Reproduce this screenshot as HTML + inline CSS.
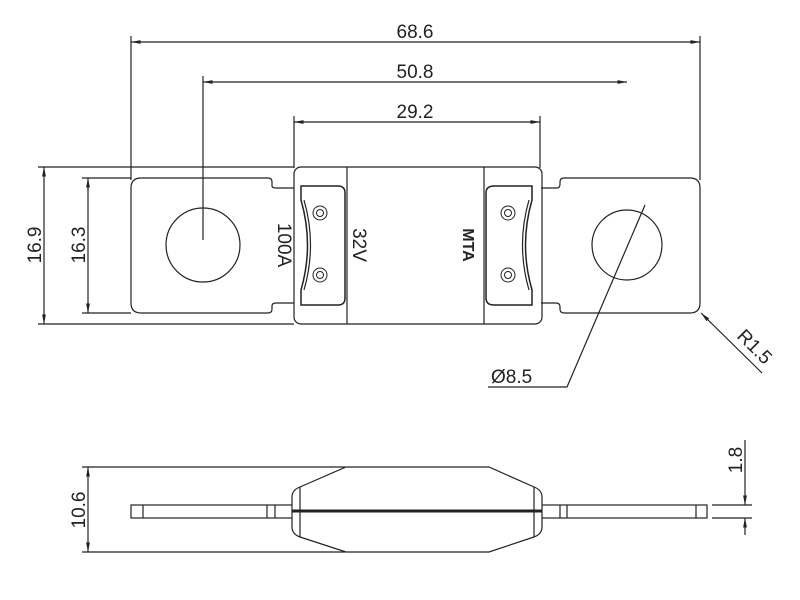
<!DOCTYPE html>
<html><head><meta charset="utf-8"><style>html,body{margin:0;padding:0;background:#fff}svg{display:block}</style></head><body>
<svg width="800" height="600" viewBox="0 0 800 600" xmlns="http://www.w3.org/2000/svg" font-family="Liberation Sans, DejaVu Sans, sans-serif" fill="none" stroke="#222" stroke-width="1.2">
<defs><marker id="a" viewBox="0 0 10 10" refX="10" refY="5" markerWidth="8" markerHeight="8" orient="auto-start-reverse"><path d="M0,3L10,5L0,7z" fill="#222" stroke="none"/></marker></defs>
<!-- top dims -->
<line x1="131" y1="42" x2="700" y2="42" marker-start="url(#a)" marker-end="url(#a)"/>
<line x1="131" y1="36" x2="131" y2="180"/><line x1="700" y1="36" x2="700" y2="180"/>
<line x1="203" y1="82" x2="627" y2="82" marker-start="url(#a)" marker-end="url(#a)"/>
<line x1="203" y1="76" x2="203" y2="240"/>
<line x1="294" y1="122" x2="540" y2="122" marker-start="url(#a)" marker-end="url(#a)"/>
<line x1="294" y1="116" x2="294" y2="168"/><line x1="540" y1="116" x2="540" y2="168"/>
<g fill="#222" stroke="none" font-size="19" text-anchor="middle"><text x="415" y="38">68.6</text><text x="415" y="78">50.8</text><text x="415" y="118">29.2</text></g>
<!-- left dims -->
<line x1="44" y1="167" x2="44" y2="324" marker-start="url(#a)" marker-end="url(#a)"/>
<line x1="38" y1="167" x2="294" y2="167"/><line x1="38" y1="324" x2="294" y2="324"/>
<line x1="88" y1="178" x2="88" y2="313" marker-start="url(#a)" marker-end="url(#a)"/>
<line x1="82" y1="178" x2="131" y2="178"/><line x1="82" y1="313" x2="131" y2="313"/>
<g fill="#222" stroke="none" font-size="19" text-anchor="middle"><text transform="translate(41,245) rotate(-90)">16.9</text><text transform="translate(85,245) rotate(-90)">16.3</text></g>
<!-- tabs -->
<path d="M294,188 H276 Q272,188 272,186 V182 Q272,178 268,178 H141 Q131,178 131,188 V303 Q131,313 141,313 H268 Q272,313 272,309 V306 Q272,303 276,303 H294"/>
<path d="M541,188 H557 Q560,188 560,184 V182 Q560,178 564,178 H690 Q700,178 700,188 V303 Q700,313 690,313 H564 Q560,313 560,309 V307 Q560,303 556,303 H541"/>
<circle cx="203" cy="245" r="37"/><circle cx="627" cy="245" r="35"/>
<!-- body -->
<rect x="294" y="167" width="248" height="157" rx="7"/>
<line x1="347" y1="167" x2="347" y2="324"/><line x1="484" y1="167" x2="484" y2="324"/>
<path d="M301,186 H338 Q345,186 345,193 V298 Q345,305 338,305 H301 V290 Q314,245 301,200Z" stroke-width="1.5"/>
<path d="M304,200 Q317,245 304,290" />
<path d="M532,186 H494 Q486,186 486,193 V298 Q486,305 494,305 H532 V290 Q519,245 532,200Z" stroke-width="1.5"/>
<path d="M529,200 Q516,245 529,290"/>
<g stroke-width="1"><circle cx="320" cy="213" r="7"/><circle cx="320" cy="213" r="3.5"/><circle cx="320" cy="275" r="7"/><circle cx="320" cy="275" r="3.5"/>
<circle cx="508" cy="213" r="7"/><circle cx="508" cy="213" r="3.5"/><circle cx="508" cy="275" r="7"/><circle cx="508" cy="275" r="3.5"/></g>
<g fill="#222" stroke="none" font-size="19" text-anchor="middle">
<text transform="translate(278,245) rotate(90)">100A</text>
<text transform="translate(353,245) rotate(90)">32V</text>
<text transform="translate(463,245) rotate(90)" font-weight="bold" font-size="16">MTA</text></g>
<!-- leaders -->
<path d="M645,205 L567,387 H488"/>
<text x="491" y="383" font-size="19" fill="#222" stroke="none">Ø8.5</text>
<line x1="762" y1="373" x2="701" y2="313" marker-end="url(#a)"/>
<text transform="translate(736,337) rotate(45)" font-size="19" fill="#222" stroke="none">R1.5</text>
<!-- side view -->
<line x1="88" y1="467" x2="88" y2="552" marker-start="url(#a)" marker-end="url(#a)"/>
<line x1="82" y1="467" x2="345" y2="467"/><line x1="82" y1="552" x2="345" y2="552"/>
<text transform="translate(85,510) rotate(-90)" font-size="19" fill="#222" stroke="none" text-anchor="middle">10.6</text>
<rect x="131" y="505" width="576" height="13"/>
<line x1="143" y1="505" x2="143" y2="518"/><line x1="267" y1="505" x2="267" y2="518"/><line x1="275" y1="505" x2="275" y2="518"/>
<line x1="560" y1="505" x2="560" y2="518"/><line x1="567" y1="505" x2="567" y2="518"/><line x1="696" y1="505" x2="696" y2="518"/>
<path d="M346,467 H489 L534,487 Q542,490 542,497 V527 Q542,534 534,537 L489,552 H346 L300,537 Q292,534 292,527 V497 Q292,490 300,487Z" fill="#fff"/>
<line x1="300" y1="487" x2="300" y2="537"/><line x1="534" y1="487" x2="534" y2="537"/>
<line x1="292" y1="511" x2="542" y2="511" stroke-width="3"/>
<line x1="712" y1="505" x2="752" y2="505"/><line x1="712" y1="518" x2="752" y2="518"/>
<line x1="745" y1="440" x2="745" y2="505" marker-end="url(#a)"/><line x1="745" y1="535" x2="745" y2="518" marker-end="url(#a)"/>
<text transform="translate(742,460) rotate(-90)" font-size="19" fill="#222" stroke="none" text-anchor="middle">1.8</text>
</svg>
</body></html>
